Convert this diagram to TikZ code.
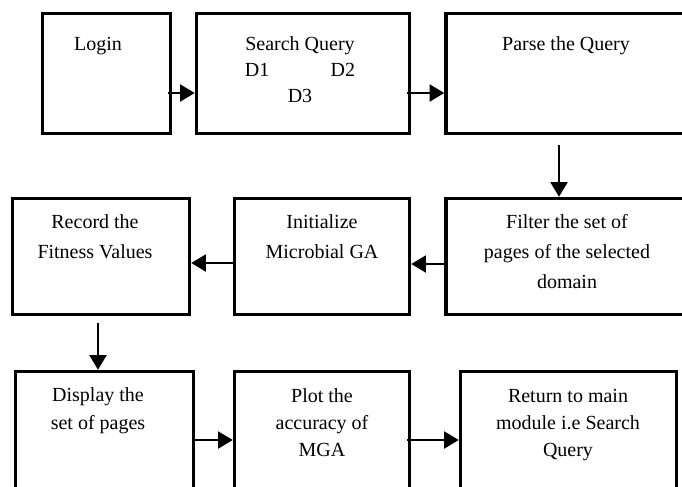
\documentclass[tikz,border=0pt]{standalone}
\usepackage{fontspec}
\setmainfont{Liberation Serif}
\usetikzlibrary{arrows.meta, positioning, calc}

\begin{document}
\begin{tikzpicture}[x=0.75pt, y=-0.75pt,
    box/.style={rectangle, draw, line width=2.5pt, inner sep=0pt},
    txt/.style={align=center, anchor=base, inner sep=0pt, font=\fontsize{15}{22.5}\selectfont},
    arrow/.style={-{Triangle[length=11pt, width=12.5pt]}, line width=2.2pt}
]
    \clip (0,0) rectangle (682,486);

    % First row
    \node[box, minimum width=96pt, minimum height=90pt] (login) at (106.5, 73.5) {};
    \node[box, minimum width=159.75pt, minimum height=90pt] (search) at (303, 73.5) {};
    \node[box, minimum width=180pt, minimum height=90pt] (parse) at (566, 73.5) {};
    \node[txt] (loginTxt) at (98, 50) {Login};
    \node[txt, font=\fontsize{15}{19.5}\selectfont] (searchTxt) at (300, 102) {Search Query\\D1\hspace{46pt}D2\\D3};
    \node[txt] (parseTxt) at (566, 50) {Parse the Query};

    % Second row
    \node[box, minimum width=132.75pt, minimum height=87pt] (record) at (101, 256.5) {};
    \node[box, minimum width=131.25pt, minimum height=87pt] (init) at (322, 256.5) {};
    \node[box, minimum width=180pt, minimum height=87pt] (filter) at (566, 256.5) {};
    \node[txt] (recordTxt) at (95, 258) {Record the\\Fitness Values};
    \node[txt] (initTxt) at (322, 258) {Initialize\\Microbial GA};
    \node[txt] (filterTxt) at (567, 288) {Filter the set of\\pages of the selected\\domain};

    % Third row
    \node[box, minimum width=133.5pt, minimum height=97.5pt] (display) at (104.5, 436.5) {};
    \node[box, minimum width=131.25pt, minimum height=97.5pt] (plot) at (322, 436.5) {};
    \node[box, minimum width=162pt, minimum height=97.5pt] (return) at (568.5, 436.5) {};
    \node[txt, font=\fontsize{15}{20.5}\selectfont] (displayTxt) at (98, 429.3) {Display the\\set of pages};
    \node[txt, font=\fontsize{15}{20.5}\selectfont] (plotTxt) at (322, 456.7) {Plot the\\accuracy of\\MGA};
    \node[txt, font=\fontsize{15}{20.5}\selectfont] (returnTxt) at (568, 456.7) {Return to main\\module i.e Search\\Query};

    % Arrows
    \coordinate (downA) at ($(parse.south)+(-7,10)$);
    \coordinate (downB) at ($(record.south)+(-3,7)$);
    \draw[arrow] ($(login.east)+(-4,19.5)$) -- ($(search.west)+(0,19.5)$);
    \draw[arrow] ($(search.east)+(-4,19.5)$) -- ($(parse.west)+(0,19.5)$);
    \draw[arrow] (downA) -- (downA |- filter.north);
    \draw[arrow] ($(filter.west)+(0,7.5)$) -- ($(init.east)+(0,7.5)$);
    \draw[arrow] ($(init.west)+(0,6.5)$) -- ($(record.east)+(0,6.5)$);
    \draw[arrow] (downB) -- (downB |- display.north);
    \draw[arrow] ($(display.east)+(-1,3.5)$) -- ($(plot.west)+(0,3.5)$);
    \draw[arrow] ($(plot.east)+(-4,3.5)$) -- ($(return.west)+(0,3.5)$);

\end{tikzpicture}
\end{document}
